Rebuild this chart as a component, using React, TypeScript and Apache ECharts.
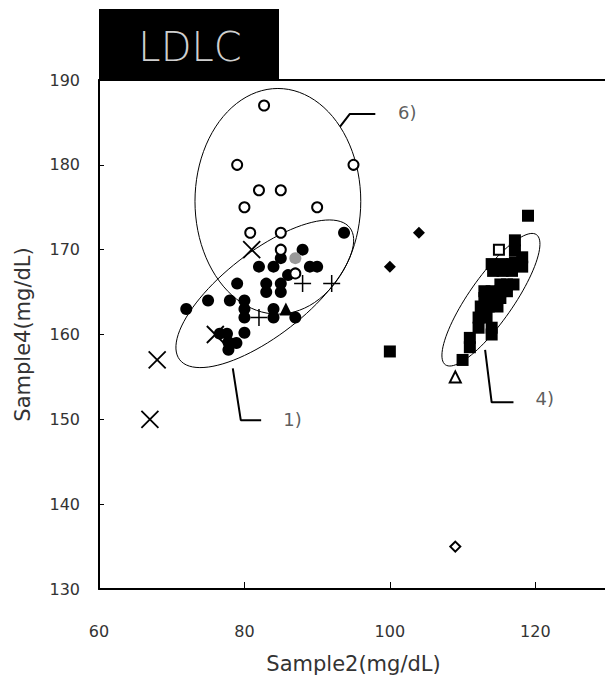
import React, { useEffect, useRef } from "react";
import * as echarts from "echarts";

const xTicks = [60, 80, 100, 120];
const yTicks = [130, 140, 150, 160, 170, 180, 190];

const filledCircles: number[][] = [
  [93.7, 172], [88, 170], [85, 169], [82, 168], [84, 168], [89, 168], [90, 168],
  [86, 167], [79, 166], [83, 166], [83, 165], [85, 166], [85, 165], [72, 163],
  [75, 164], [78, 164], [80, 164], [80, 163], [80, 162], [84, 163], [84, 162],
  [87, 162], [76.6, 160.1], [77.6, 160.1], [80, 160.2], [78.9, 159], [77.8, 158.2],
  [77.8, 159.1],
];
const openCircles: number[][] = [
  [82.7, 187], [79, 180], [95, 180], [82, 177], [85, 177], [80, 175], [90, 175],
  [80.8, 172], [85, 172], [85, 170], [87, 167.2],
];
const grayCircles: number[][] = [[87, 169]];
const filledTriangles: number[][] = [[85.7, 163]];
const plusMarks: number[][] = [[88, 166], [92, 166], [82, 162]];
const crossMarks: number[][] = [[81, 170], [76, 160], [68, 157], [67, 150]];
const filledDiamonds: number[][] = [[104, 172], [100, 168]];
const filledSquares: number[][] = [
  [119, 174], [100, 158],
  [117.2, 171.1], [117.2, 169.9], [117.2, 168.5], [118.2, 169.1], [118.2, 168.0],
  [114.0, 168.3], [115.4, 168.3], [116.8, 168.3],
  [114.2, 167.5], [115.5, 167.5], [116.8, 167.5],
  [115.2, 165.9], [116.1, 165.9], [117.0, 165.9],
  [113.0, 165.1], [114.0, 165.1], [115.2, 165.1], [116.1, 165.1],
  [113.0, 164.3], [114.0, 164.3], [115.2, 164.3],
  [112.5, 163.3], [113.6, 163.3], [114.8, 163.3],
  [112.2, 162.0], [113.3, 162.0],
  [112.2, 160.8], [114.0, 160.8], [114.0, 160.0],
  [111.0, 159.6], [111.0, 158.5], [110.0, 157.0],
];
const openSquares: number[][] = [[115, 170]];
const openTriangles: number[][] = [[109, 155]];
const openDiamonds: number[][] = [[109, 135]];

// ellipses: centre, half major-axis vector, half minor-axis vector (data units)
const ellipseCentres: number[][] = [[84.6, 175.7], [82.8, 164.8], [113.9, 164.1]];
const ellipseMajor: number[][] = [[0, 13.3], [11.7, 7.78], [6.26, 7.67]];
const ellipseMinor: number[][] = [[11.4, 0], [3.54, -3.9], [2.5, -1.5]];

const leader6: number[][] = [[93.15, 184.5], [94.5, 186.0], [98.0, 186.0]];
const leader1: number[][] = [[78.4, 156.0], [79.5, 149.9], [82.3, 149.9]];
const leader4: number[][] = [[113.1, 158.2], [114.0, 152.0], [117.0, 152.0]];
const groupLabels = ["6)", "1)", "4)"];
const groupLabelPos: number[][] = [[102.4, 186.2], [86.6, 150], [121.3, 152.5]];

const FONT = "'DejaVu Sans', 'Noto Sans', sans-serif";
const TEXT = "#333";
const crossPath = "path://M0,0L10,10M10,0L0,10";
const plusPath = "path://M5,0L5,10M0,5L10,5";

export default function App() {
  const ref = useRef<HTMLDivElement>(null);
  useEffect(() => {
    document.body.style.margin = "0";
    const chart = echarts.init(ref.current!, null, { renderer: "svg" });
    const scatter = (data: number[][], symbol: string, size: number, itemStyle: any, z = 3) => ({
      type: "scatter",
      data,
      symbol,
      symbolSize: size,
      itemStyle: { opacity: 1, ...itemStyle },
      z,
      silent: true,
    });
    const leader = (data: number[][]) => ({
      type: "line",
      data,
      symbol: "none",
      lineStyle: { color: "#000", width: 2 },
      z: 2,
      silent: true,
    });
    chart.setOption({
      animation: false,
      backgroundColor: "#fff",
      grid: { left: 99, top: 80, width: 509, height: 509 },
      xAxis: [
        {
          type: "value",
          min: 60,
          max: 130,
          interval: 20,
          axisLine: { lineStyle: { color: "#000", width: 2 } },
          axisTick: { inside: true, length: 7, lineStyle: { color: "#000", width: 1 } },
          axisLabel: {
            showMaxLabel: false,
            margin: 34,
            fontSize: 16,
            color: TEXT,
            fontFamily: FONT,
            formatter: (v: number) => (xTicks.includes(v) ? String(v) : ""),
          },
          splitLine: { show: false },
          name: "Sample2(mg/dL)",
          nameLocation: "middle",
          nameGap: 64,
          nameTextStyle: { fontSize: 21, color: TEXT, fontFamily: FONT },
        },
        {
          type: "value",
          position: "top",
          min: 60,
          max: 130,
          axisLine: { show: true, lineStyle: { color: "#000", width: 2 } },
          axisTick: { show: false },
          axisLabel: { show: false },
          splitLine: { show: false },
        },
      ],
      yAxis: {
        type: "value",
        min: 130,
        max: 190,
        interval: 10,
        axisLine: { lineStyle: { color: "#000", width: 2 } },
        axisTick: { inside: true, length: 5, lineStyle: { color: "#000", width: 1 } },
        axisLabel: {
          margin: 19,
          fontSize: 16,
          color: TEXT,
          fontFamily: FONT,
          formatter: (v: number) => (yTicks.includes(v) ? String(v) : ""),
        },
        splitLine: { show: false },
        name: "Sample4(mg/dL)",
        nameLocation: "middle",
        nameGap: 66,
        nameTextStyle: { fontSize: 21, color: TEXT, fontFamily: FONT },
      },
      graphic: [
        { type: "rect", shape: { x: 99, y: 9, width: 180, height: 72 }, style: { fill: "#000" }, z: 10 },
        {
          type: "text",
          x: 190,
          y: 47,
          style: {
            text: "LDLC",
            fill: "#cfcfcf",
            fontSize: 40,
            fontWeight: 200,
            fontFamily: FONT,
            align: "center",
            verticalAlign: "middle",
          },
          z: 11,
        },
      ],
      series: [
        {
          type: "custom",
          data: ellipseCentres.map((c, i) => [c[0], c[1], i]),
          z: 1,
          silent: true,
          renderItem: (params: any, api: any) => {
            const i = params.dataIndex;
            const c = ellipseCentres[i];
            const mj = ellipseMajor[i];
            const mn = ellipseMinor[i];
            const p0 = api.coord(c);
            const pu = api.coord([c[0] + mj[0], c[1] + mj[1]]);
            const pv = api.coord([c[0] + mn[0], c[1] + mn[1]]);
            const u = [pu[0] - p0[0], pu[1] - p0[1]];
            const v = [pv[0] - p0[0], pv[1] - p0[1]];
            const pts: number[][] = [];
            for (let k = 0; k < 96; k++) {
              const t = (k / 96) * Math.PI * 2;
              pts.push([
                p0[0] + Math.cos(t) * u[0] + Math.sin(t) * v[0],
                p0[1] + Math.cos(t) * u[1] + Math.sin(t) * v[1],
              ]);
            }
            return {
              type: "polygon",
              shape: { points: pts },
              style: { fill: "none", stroke: "#000", lineWidth: 1 },
            };
          },
        },
        leader(leader6),
        leader(leader1),
        leader(leader4),
        {
          type: "scatter",
          data: groupLabelPos.map((p, i) => ({ value: p, name: groupLabels[i] })),
          symbolSize: 0,
          silent: true,
          label: {
            show: true,
            position: "inside",
            formatter: (p: any) => p.name,
            fontSize: 18,
            color: TEXT,
            fontFamily: FONT,
          },
        },
        scatter(filledCircles, "circle", 12, { color: "#000" }),
        scatter(openCircles, "circle", 10, { color: "#fff", borderColor: "#000", borderWidth: 2 }, 4),
        scatter(grayCircles, "circle", 12, { color: "#999" }, 4),
        scatter(filledTriangles, "triangle", 13, { color: "#000" }),
        scatter(plusMarks, plusPath, 17, { color: "none", borderColor: "#000", borderWidth: 1.5 }),
        scatter(crossMarks, crossPath, 17, { color: "none", borderColor: "#000", borderWidth: 1.8 }),
        scatter(filledDiamonds, "diamond", 12, { color: "#000" }),
        scatter(filledSquares, "rect", 12, { color: "#000" }),
        scatter(openSquares, "rect", 10, { color: "#fff", borderColor: "#000", borderWidth: 2 }, 4),
        scatter(openTriangles, "triangle", 11, { color: "#fff", borderColor: "#000", borderWidth: 2 }),
        scatter(openDiamonds, "diamond", 10, { color: "#fff", borderColor: "#000", borderWidth: 2 }),
      ],
    });
    return () => chart.dispose();
  }, []);
  return (
    <div style={{ width: 605, height: 684, overflow: "hidden", position: "relative" }}>
      <div ref={ref} style={{ width: 620, height: 684 }} />
    </div>
  );
}
